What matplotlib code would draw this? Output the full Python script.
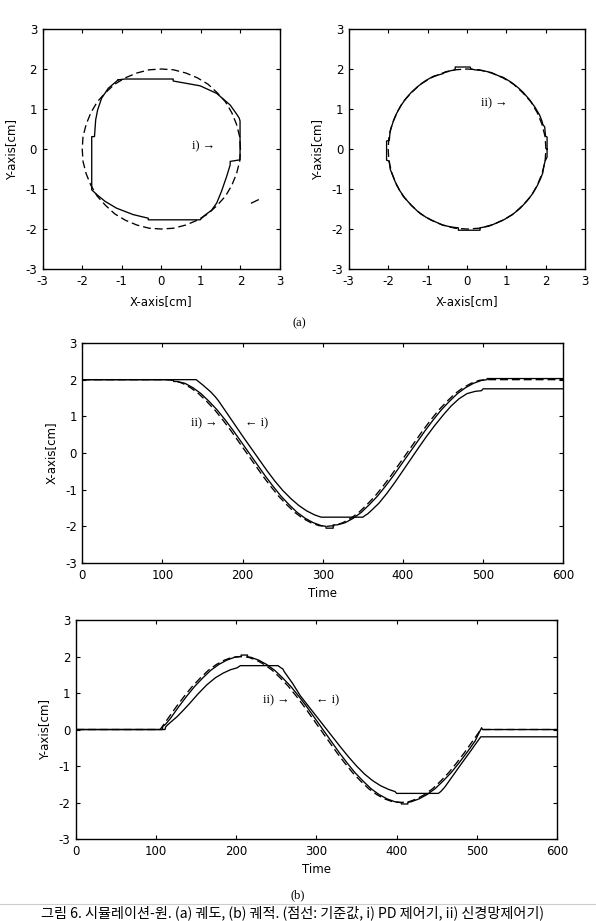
import matplotlib
matplotlib.use("Agg")
import matplotlib.pyplot as plt
from matplotlib.lines import Line2D

plt.rcParams['font.family'] = ['DejaVu Sans']
plt.rcParams['font.size'] = 8.5
plt.rcParams['axes.unicode_minus'] = False

# reference trajectory (dashed): time samples and x / y values
ref_t = [0, 105, 115, 125, 135, 145, 155, 165, 175, 185, 195, 205, 215, 225, 235, 245,
         255, 265, 275, 285, 295, 305, 315, 325, 335, 345, 355, 365, 375, 385, 395, 405,
         415, 425, 435, 445, 455, 465, 475, 485, 495, 505, 600]
ref_x = [2.00, 2.00, 1.98, 1.90, 1.78, 1.62, 1.41, 1.18, 0.91, 0.62, 0.31, 0.00, -0.31,
         -0.62, -0.91, -1.18, -1.41, -1.62, -1.78, -1.90, -1.98, -2.00, -1.98, -1.90,
         -1.78, -1.62, -1.41, -1.18, -0.91, -0.62, -0.31, 0.00, 0.31, 0.62, 0.91, 1.18,
         1.41, 1.62, 1.78, 1.90, 1.98, 2.00, 2.00]
ref_y = [0.00, 0.00, 0.31, 0.62, 0.91, 1.18, 1.41, 1.62, 1.78, 1.90, 1.98, 2.00, 1.98,
         1.90, 1.78, 1.62, 1.41, 1.18, 0.91, 0.62, 0.31, 0.00, -0.31, -0.62, -0.91, -1.18,
         -1.41, -1.62, -1.78, -1.90, -1.98, -2.00, -1.98, -1.90, -1.78, -1.62, -1.41,
         -1.18, -0.91, -0.62, -0.31, 0.00, 0.00]

# (a) left: PD controller orbit
pd_orbit_x = [-1.09, -0.92, 0.30, 0.30, 0.98, 1.40, 1.74, 1.92, 1.97, 1.99, 1.99, 1.74,
              1.74, 1.65, 1.52, 1.40, 1.27, 1.08, 0.98, -0.33, -0.33, -0.71, -1.13, -1.42,
              -1.63, -1.76, -1.76, -1.69, -1.66, -1.61, -1.51, -1.34, -1.09]
pd_orbit_y = [1.73, 1.75, 1.75, 1.70, 1.58, 1.39, 1.10, 0.85, 0.77, 0.70, -0.27, -0.31,
              -0.40, -0.69, -1.06, -1.35, -1.53, -1.67, -1.77, -1.77, -1.73, -1.64, -1.48,
              -1.31, -1.14, -1.02, 0.31, 0.31, 0.73, 0.98, 1.27, 1.52, 1.73]
stray_x = [2.28, 2.45]
stray_y = [-1.35, -1.27]

# (a) right: neural network controller orbit
nn_orbit_x = [2.03, 2.03, 1.99, 1.97, 1.92, 1.90, 1.84, 1.72, 1.58, 1.42, 1.30, 1.12, 0.92,
              0.80, 0.62, 0.40, 0.20, 0.10, 0.08, -0.30, -0.30, -0.55, -0.62, -0.85, -1.05,
              -1.24, -1.42, -1.56, -1.68, -1.78, -1.86, -1.90, -1.95, -1.97, -2.04, -2.04,
              -1.97, -1.95, -1.90, -1.83, -1.72, -1.58, -1.42, -1.25, -1.05, -0.85, -0.62,
              -0.40, -0.22, -0.22, 0.33, 0.33, 0.55, 0.75, 0.95, 1.15, 1.35, 1.52, 1.66,
              1.78, 1.86, 1.92, 1.95, 1.98, 2.03, 2.03]
nn_orbit_y = [0.00, 0.30, 0.32, 0.55, 0.62, 0.70, 0.85, 1.05, 1.24, 1.42, 1.53, 1.67, 1.79,
              1.83, 1.91, 1.96, 1.98, 2.00, 2.05, 2.05, 1.98, 1.93, 1.88, 1.82, 1.71, 1.57,
              1.41, 1.25, 1.08, 0.90, 0.72, 0.60, 0.45, 0.22, 0.20, -0.28, -0.30, -0.50,
              -0.62, -0.80, -1.02, -1.22, -1.40, -1.56, -1.70, -1.80, -1.90, -1.95, -1.97,
              -2.03, -2.03, -1.97, -1.93, -1.85, -1.76, -1.64, -1.48, -1.30, -1.12, -0.92,
              -0.75, -0.60, -0.42, -0.30, -0.20, 0.00]

# (b) top: X-axis vs time
pd_x_t = [0, 142, 150, 160, 166, 170, 180, 190, 200, 210, 220, 230, 240, 250, 260, 270,
          280, 290, 298, 350, 353, 356, 360, 370, 380, 390, 400, 410, 420, 430, 440, 450,
          460, 470, 480, 490, 498, 500, 600]
pd_x = [2.0, 2.0, 1.86, 1.67, 1.53, 1.42, 1.10, 0.78, 0.46, 0.15, -0.16, -0.47, -0.76,
        -1.02, -1.24, -1.43, -1.58, -1.69, -1.75, -1.75, -1.70, -1.66, -1.58, -1.37, -1.10,
        -0.80, -0.48, -0.16, 0.16, 0.47, 0.76, 1.03, 1.28, 1.48, 1.62, 1.68, 1.70, 1.75, 1.75]
nn_x_t = [0, 110, 114, 114, 118, 128, 138, 148, 158, 168, 178, 188, 198, 208, 218, 228,
          238, 248, 258, 268, 278, 288, 298, 304, 304, 313, 313, 318, 328, 338, 348, 358,
          368, 378, 388, 398, 408, 418, 428, 438, 448, 458, 468, 478, 488, 498, 505, 505, 600]
nn_x = [2.0, 2.0, 1.98, 1.95, 1.95, 1.90, 1.78, 1.62, 1.41, 1.18, 0.91, 0.62, 0.31, 0.00,
        -0.31, -0.62, -0.91, -1.18, -1.41, -1.62, -1.78, -1.90, -1.98, -2.00, -2.05, -2.05,
        -1.96, -1.96, -1.90, -1.78, -1.62, -1.41, -1.18, -0.91, -0.62, -0.31, 0.00, 0.31,
        0.62, 0.91, 1.18, 1.41, 1.62, 1.78, 1.90, 1.98, 2.00, 2.03, 2.03]

# (b) bottom: Y-axis vs time
pd_y_t = [0, 111, 112, 118, 126, 134, 142, 152, 163, 174, 184, 193, 201, 205, 252, 255,
          258, 260, 270, 280, 290, 300, 310, 320, 330, 340, 350, 360, 370, 380, 390, 398,
          400, 452, 455, 460, 470, 480, 490, 500, 505, 600]
pd_y = [0, 0, 0.08, 0.20, 0.35, 0.53, 0.72, 0.97, 1.22, 1.42, 1.55, 1.64, 1.69, 1.75, 1.75,
        1.70, 1.66, 1.58, 1.27, 0.92, 0.64, 0.36, 0.08, -0.20, -0.48, -0.75, -1.00, -1.22,
        -1.40, -1.54, -1.64, -1.70, -1.75, -1.75, -1.70, -1.58, -1.27, -0.96, -0.66, -0.35,
        -0.20, -0.20]
nn_y_t = [0, 108, 108, 112, 118, 128, 138, 148, 158, 168, 178, 188, 198, 206, 206, 214,
          214, 218, 228, 238, 248, 258, 268, 278, 288, 298, 308, 318, 328, 338, 348, 358,
          368, 378, 388, 398, 406, 406, 414, 414, 418, 428, 438, 448, 458, 468, 478, 488,
          498, 503, 506, 507, 600]
nn_y = [0, 0, 0.08, 0.15, 0.31, 0.62, 0.91, 1.18, 1.41, 1.62, 1.78, 1.90, 1.98, 2.00, 2.04,
        2.04, 1.99, 1.98, 1.90, 1.78, 1.62, 1.41, 1.18, 0.91, 0.62, 0.31, 0.00, -0.31, -0.62,
        -0.91, -1.18, -1.41, -1.62, -1.78, -1.90, -1.98, -2.00, -2.04, -2.04, -1.99, -1.98,
        -1.90, -1.78, -1.62, -1.41, -1.18, -0.91, -0.62, -0.31, -0.08, 0.05, 0.00, 0.00]

caption = "그림 6. 시뮬레이션-원. (a) 궤도, (b) 궤적. (점선: 기준값, i) PD 제어기, ii) 신경망제어기)"

SERIF = ['Liberation Serif', 'DejaVu Serif']
LW = 0.95
DASH = (6, 3)


def style(ax):
    ax.tick_params(direction='in', top=True, right=True, length=3, width=0.8,
                   pad=4, labelsize=8.5)
    for s in ax.spines.values():
        s.set_linewidth(1.0)


fig = plt.figure(figsize=(5.96, 9.21), dpi=100)

# ---- (a) orbits
ax1 = fig.add_axes([0.0716, 0.7079, 0.3982, 0.2606])
ax1.plot(ref_x[1:-1], ref_y[1:-1], color='k', lw=LW, dashes=DASH)
ax1.plot(pd_orbit_x, pd_orbit_y, color='k', lw=LW)
ax1.plot(stray_x, stray_y, color='k', lw=LW)
ax1.text(0.78, 0.08, "i) →", family=SERIF, fontsize=9, va='center')
ax1.yaxis.set_label_coords(-0.104, 0.5)

ax2 = fig.add_axes([0.5851, 0.7079, 0.3970, 0.2606])
ax2.plot(ref_x[1:-1], ref_y[1:-1], color='k', lw=LW, dashes=DASH)
ax2.plot(nn_orbit_x, nn_orbit_y, color='k', lw=LW)
ax2.text(0.35, 1.15, "ii) →", family=SERIF, fontsize=9, va='center')
ax2.yaxis.set_label_coords(-0.106, 0.5)

for ax in (ax1, ax2):
    ax.set_xlim(-3, 3)
    ax.set_ylim(-3, 3)
    ax.set_xticks(range(-3, 4))
    ax.set_yticks(range(-3, 4))
    ax.set_xlabel('X-axis[cm]')
    ax.set_ylabel('Y-axis[cm]')
    ax.xaxis.set_label_coords(0.5, -0.110)
    style(ax)

# ---- (b) time histories
ax3 = fig.add_axes([0.1381, 0.3887, 0.8070, 0.2389])
ax3.plot(ref_t, ref_x, color='k', lw=LW, dashes=DASH)
ax3.plot(nn_x_t, nn_x, color='k', lw=LW)
ax3.plot(pd_x_t, pd_x, color='k', lw=LW)
ax3.text(136, 0.81, "ii) →", family=SERIF, fontsize=9, va='center')
ax3.text(203, 0.81, "← i)", family=SERIF, fontsize=9, va='center')
ax3.set_ylabel('X-axis[cm]')

ax4 = fig.add_axes([0.1275, 0.0890, 0.8070, 0.2378])
ax4.plot(ref_t, ref_y, color='k', lw=LW, dashes=DASH)
ax4.plot(nn_y_t, nn_y, color='k', lw=LW)
ax4.plot(pd_y_t, pd_y, color='k', lw=LW)
ax4.text(233, 0.79, "ii) →", family=SERIF, fontsize=9, va='center')
ax4.text(299, 0.81, "← i)", family=SERIF, fontsize=9, va='center')
ax4.set_ylabel('Y-axis[cm]')

for ax in (ax3, ax4):
    ax.set_xlim(0, 600)
    ax.set_ylim(-3, 3)
    ax.set_xticks(range(0, 601, 100))
    ax.set_yticks(range(-3, 4))
    ax.set_xlabel('Time')
    ax.xaxis.set_label_coords(0.5, -0.110)
    ax.yaxis.set_label_coords(-0.052, 0.5)
    style(ax)

fig.text(0.5017, 0.6493, "(a)", family=SERIF, fontsize=9, ha='center', va='center')
fig.text(0.5000, 0.0282, "(b)", family=SERIF, fontsize=9, ha='center', va='center')
fig.add_artist(Line2D([0, 1], [0.0185, 0.0185], transform=fig.transFigure,
                      color='#cccccc', lw=0.8))
fig.text(0.4916, 0.0087, caption, family=['Noto Sans CJK KR', 'DejaVu Sans'],
         fontsize=10.2, ha='center', va='center')

fig.savefig('out.png', dpi=100)
